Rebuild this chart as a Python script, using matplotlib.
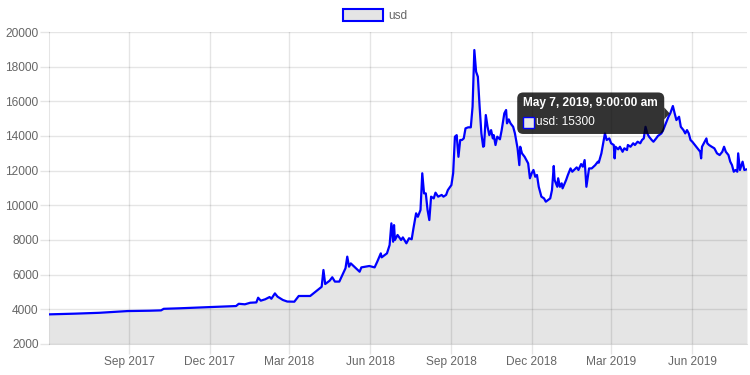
import matplotlib
matplotlib.use('Agg')
import matplotlib.pyplot as plt
import matplotlib.dates as mdates
from matplotlib.patches import Patch, FancyBboxPatch, Polygon, Rectangle
from matplotlib.transforms import IdentityTransform
import pandas as pd

dates = [
    "2017-06-02", "2017-07-01", "2017-07-29", "2017-08-30", "2017-09-24", "2017-10-07", "2017-10-10", "2017-10-28", "2017-12-02", "2017-12-31",
    "2018-01-03", "2018-01-07", "2018-01-10", "2018-01-16", "2018-01-23", "2018-01-25", "2018-01-28", "2018-02-02", "2018-02-07", "2018-02-09",
    "2018-02-13", "2018-02-16", "2018-02-22", "2018-02-27", "2018-03-07", "2018-03-12", "2018-03-25",
    "2018-04-07", "2018-04-09", "2018-04-11", "2018-04-16", "2018-04-19", "2018-04-22", "2018-04-27", "2018-05-01", "2018-05-04", "2018-05-06",
    "2018-05-08", "2018-05-10", "2018-05-14", "2018-05-20", "2018-05-22", "2018-05-31",
    "2018-06-06", "2018-06-09", "2018-06-13", "2018-06-14", "2018-06-20", "2018-06-23", "2018-06-25", "2018-06-27", "2018-06-28", "2018-06-29",
    "2018-07-02", "2018-07-06", "2018-07-08", "2018-07-12", "2018-07-15", "2018-07-18", "2018-07-20", "2018-07-23", "2018-07-25", "2018-07-28", "2018-07-30",
    "2018-08-01", "2018-08-03", "2018-08-05", "2018-08-07", "2018-08-09", "2018-08-12", "2018-08-14", "2018-08-17", "2018-08-21", "2018-08-23", "2018-08-26", "2018-08-28",
    "2018-09-01", "2018-09-03", "2018-09-05", "2018-09-07", "2018-09-09", "2018-09-11", "2018-09-13", "2018-09-15", "2018-09-17", "2018-09-20",
    "2018-09-23", "2018-09-25", "2018-09-27", "2018-09-29",
    "2018-10-01", "2018-10-03", "2018-10-05", "2018-10-07", "2018-10-08", "2018-10-10", "2018-10-12", "2018-10-14", "2018-10-16", "2018-10-18",
    "2018-10-19", "2018-10-21", "2018-10-23", "2018-10-26", "2018-10-28", "2018-10-31",
    "2018-11-02", "2018-11-03", "2018-11-05", "2018-11-07", "2018-11-10", "2018-11-12", "2018-11-15", "2018-11-17", "2018-11-18", "2018-11-20",
    "2018-11-23", "2018-11-27", "2018-11-29",
    "2018-12-01", "2018-12-03", "2018-12-05", "2018-12-07", "2018-12-09", "2018-12-12", "2018-12-15", "2018-12-17", "2018-12-22", "2018-12-24",
    "2018-12-26", "2018-12-27", "2018-12-30", "2018-12-31",
    "2019-01-02", "2019-01-04", "2019-01-05", "2019-01-09", "2019-01-11", "2019-01-14", "2019-01-16", "2019-01-18", "2019-01-21", "2019-01-23",
    "2019-01-26", "2019-01-28", "2019-01-30",
    "2019-02-01", "2019-02-04", "2019-02-07", "2019-02-11", "2019-02-14", "2019-02-15", "2019-02-18", "2019-02-20", "2019-02-22", "2019-02-24", "2019-02-27",
    "2019-03-01", "2019-03-04", "2019-03-05", "2019-03-06", "2019-03-09", "2019-03-11", "2019-03-14", "2019-03-16", "2019-03-19", "2019-03-20",
    "2019-03-23", "2019-03-26", "2019-03-28", "2019-03-31",
    "2019-04-03", "2019-04-05", "2019-04-07", "2019-04-09", "2019-04-11", "2019-04-13", "2019-04-16", "2019-04-18", "2019-04-21", "2019-04-23",
    "2019-04-27", "2019-04-29",
    "2019-05-02", "2019-05-05", "2019-05-07", "2019-05-10", "2019-05-12", "2019-05-14", "2019-05-17", "2019-05-19", "2019-05-22", "2019-05-24",
    "2019-05-26", "2019-05-28", "2019-05-30",
    "2019-06-01", "2019-06-04", "2019-06-07", "2019-06-10", "2019-06-11", "2019-06-12", "2019-06-15", "2019-06-17", "2019-06-18", "2019-06-20",
    "2019-06-23", "2019-06-26", "2019-06-29",
    "2019-07-02", "2019-07-05", "2019-07-07", "2019-07-09", "2019-07-12", "2019-07-14", "2019-07-16", "2019-07-18", "2019-07-20", "2019-07-22",
    "2019-07-23", "2019-07-25", "2019-07-28", "2019-07-30", "2019-08-02",
]

usd = [
    3710, 3750, 3800, 3900, 3920, 3940, 4030, 4060, 4130, 4190,
    4320, 4300, 4290, 4380, 4400, 4670, 4500, 4580, 4710, 4610,
    4920, 4730, 4540, 4450, 4440, 4770, 4770,
    5300, 6270, 5460, 5650, 5850, 5600, 5600, 6040, 6370, 7040,
    6460, 6650, 6460, 6170, 6420, 6500,
    6420, 6750, 7230, 7000, 7230, 7710, 8960, 7900, 8860, 8000,
    8290, 8000, 8150, 7810, 8100, 8040, 8670, 9540, 9340, 9730, 11850,
    10690, 10690, 9730, 9150, 10500, 10400, 10730, 10500, 10600, 10500, 10600, 10880,
    11170, 11850, 13960, 14050, 12800, 13770, 13770, 13860, 14440, 14500,
    14500, 15690, 18960, 17710,
    17420, 15690, 14150, 13380, 13420, 15210, 14530, 14050, 14340, 13860,
    14050, 13480, 13960, 13810, 14340, 15310,
    15500, 14730, 14960, 14730, 14530, 14150, 13290, 12320, 13380, 13000,
    12800, 12420, 11560,
    11850, 12040, 11650, 11750, 11070, 10500, 10400, 10210, 10400, 10880,
    12270, 11460, 11070, 11560,
    11070, 11270, 10980, 11460, 11750, 12130, 11940, 12040, 12190, 12040,
    12380, 12230, 12610,
    11070, 12130, 12130, 12320, 12520, 12460, 13000, 13580, 14150, 13770, 13860,
    13580, 13480, 12710, 13380, 13230, 13380, 13090, 13290, 13190, 13480,
    13380, 13580, 13480, 13670,
    13580, 13770, 13860, 14530, 14150, 13960, 13770, 13670, 13860, 14000,
    14150, 14340,
    14730, 15110, 15300, 15730, 15310, 14920, 15110, 14530, 14340, 14150,
    14340, 14150, 13770,
    13670, 13480, 13290, 13090, 12710, 13380, 13670, 13860, 13580, 13480,
    13380, 13290, 13000,
    12900, 13090, 13380, 13090, 12900, 12520, 12320, 11940, 12040, 11940,
    13000, 12040, 12520, 12040, 12080,
]

yticks = list(range(2000, 20001, 2000))
tip_date = "2019-05-07"
tip_title = "May 7, 2019, 9:00:00 am"
series_name = "usd"

plt.rcParams['font.family'] = ['Liberation Sans', 'DejaVu Sans']
grid_c = (0, 0, 0, 0.1)
text_c = '#666666'
fs = 8.6  # 12px

fig = plt.figure(figsize=(7.5, 3.75), dpi=100)
ax = fig.add_axes([49 / 750, 1 - 344 / 375, (747 - 49) / 750, (344 - 32) / 375])

x = pd.to_datetime(dates)
ax.fill_between(x, usd, 2000, color=grid_c, lw=0, zorder=2)
ax.plot(x, usd, color='#0000ff', lw=1.6, solid_joinstyle='round', zorder=3)

ax.set_xlim(x[0], x[-1])
ax.set_ylim(2000, 20000)
ax.set_yticks(yticks)
ax.xaxis.set_major_locator(mdates.MonthLocator(bymonth=[3, 6, 9, 12]))
ax.xaxis.set_major_formatter(mdates.DateFormatter('%b %Y'))

ax.grid(True, color='black', alpha=0.1, lw=1)
ax.set_axisbelow(True)
for s in ['top', 'right']:
    ax.spines[s].set_visible(False)
for s in ['left', 'bottom']:
    ax.spines[s].set_color(grid_c)
ax.tick_params(axis='y', color=grid_c, labelcolor=text_c, labelsize=fs, length=6.5, width=1, pad=1)
ax.tick_params(axis='x', color=grid_c, labelcolor=text_c, labelsize=fs, length=7.2, width=1, pad=1.5)

# legend
fig.legend(handles=[Patch(facecolor=grid_c, edgecolor='#0000ff', linewidth=1.5)], labels=[series_name],
           loc='center', bbox_to_anchor=(0.5, 1 - 15.8 / 375), frameon=False,
           handlelength=40 / 12, handleheight=13 / 12, handletextpad=5 / 12,
           fontsize=fs, labelcolor=text_c)

# tooltip
i = dates.index(tip_date)
px, py = ax.transData.transform((mdates.date2num(x[i]), usd[i]))
ident = IdentityTransform()
fig.add_artist(FancyBboxPatch((px - 153, py - 20.5), 147, 41.5,
                              boxstyle='round,pad=0,rounding_size=6',
                              fc=(0, 0, 0, 0.8), ec='none', transform=ident, zorder=10))
fig.add_artist(Polygon([(px - 6, py + 6), (px - 0.5, py), (px - 6, py - 6)], closed=True,
                       fc=(0, 0, 0, 0.8), ec='none', transform=ident, zorder=10))
fig.text(px - 147.5, py + 10, tip_title, transform=ident, color='white', fontsize=fs,
         fontweight='bold', va='center', ha='left', zorder=11)
fig.add_artist(Rectangle((px - 147.5, py - 15), 11, 11, fc='#e6e6e6', ec='#0000ff', lw=1,
                         transform=ident, zorder=11))
fig.text(px - 134, py - 8.5, f"{series_name}: {usd[i]}", transform=ident, color='white',
         fontsize=fs, va='center', ha='left', zorder=11)

fig.savefig('out.png', dpi=100)
